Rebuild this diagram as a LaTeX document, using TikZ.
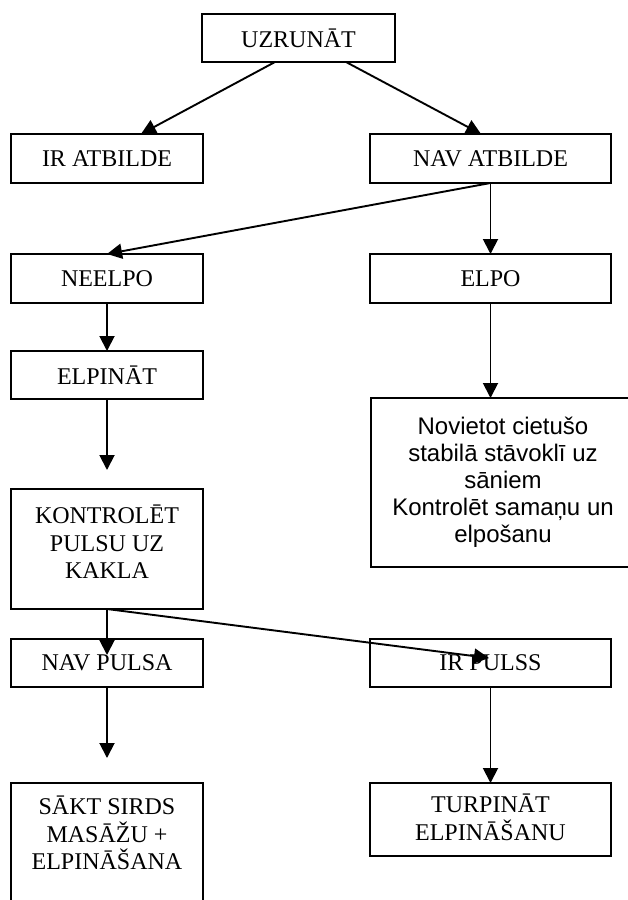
\documentclass[tikz,border=0pt]{standalone}
\usepackage{fontspec}
\setmainfont{Liberation Serif}
\newfontfamily\arialfont{Liberation Sans}
\usepackage{tikz}
\usetikzlibrary{arrows.meta}

\tikzset{
	box/.style={draw, line width=1.9pt, outer sep=0pt, inner sep=0pt, minimum width=192pt, minimum height=48pt, align=center, font=\fontsize{24}{27.5}\selectfont},
	widebox/.style={box, minimum width=241pt},
	sansbox/.style={box, font=\arialfont\fontsize{24}{27}\selectfont},
	arr/.style={line width=1.9pt, -{Triangle[length=15pt,width=15pt]}}
}

\begin{document}
\begin{tikzpicture}[x=1pt, y=-1pt]
	\clip (0,0) rectangle (628,900);
	\fill[white] (0,0) rectangle (628,900);
	% boxes
	\node[box, minimum width=193pt] (uzrunat) at (298.5,38) {UZRUNĀT};
	\node[box, minimum height=49pt] (irat) at (107,158.5) {IR ATBILDE};
	\node[widebox, minimum height=49pt] (navat) at (490.5,158.5) {NAV ATBILDE};
	\node[box, minimum height=49pt] (neelpo) at (107,278.5) {NEELPO};
	\node[widebox, minimum height=49pt] (elpo) at (490.5,278.5) {ELPO};
	\node[box] (elpinat) at (107,375) {ELPINĀT};
	\node[sansbox, minimum width=264pt, minimum height=169pt] (novietot) at (503,482.5) {Novietot cietušo\\stabilā stāvoklī uz\\sāniem\\Kontrolēt samaņu un\\elpošanu};
	\node[box, minimum height=120pt] (kontrolet) at (107,549) {KONTROLĒT\\PULSU UZ\\KAKLA\rule[-14pt]{0pt}{0pt}};
	\node[box] (navpulsa) at (107,663) {NAV PULSA};
	\node[widebox] (irpulss) at (490.5,663) {IR PULSS};
	\node[box, minimum height=120pt] (sakt) at (107,843) {SĀKT SIRDS\\MASĀŽU +\\ELPINĀŠANA\rule[-20pt]{0pt}{0pt}};
	\node[widebox, minimum height=73pt] (turpinat) at (490.5,819.5) {TURPINĀT\\ELPINĀŠANU\rule[-5pt]{0pt}{0pt}};
	% free arrow ends
	\coordinate (elpinatend) at (107,470);
	\coordinate (navpulsaend) at (107,758);
	\coordinate (kontroletnav) at (107,655);
	\coordinate (kontroletir) at (489,658);
	% arrows
	\draw[arr] ([xshift=-23.5pt]uzrunat.south) -- ([xshift=34pt]irat.north);
	\draw[arr] ([xshift=47.5pt]uzrunat.south) -- ([xshift=-9.5pt]navat.north);
	\draw[arr] (navat.south) -- (neelpo.north);
	\draw[arr] (navat.south) -- (elpo.north);
	\draw[arr] (neelpo.south) -- (elpinat.north);
	\draw[arr] (elpo.south) -- (elpo.south |- novietot.north);
	\draw[arr] (elpinat.south) -- (elpinatend);
	\draw[arr] (kontrolet.south) -- (kontroletnav);
	\draw[arr] (kontrolet.south) -- (kontroletir);
	\draw[arr] (navpulsa.south) -- (navpulsaend);
	\draw[arr] (irpulss.south) -- (turpinat.north);
\end{tikzpicture}
\end{document}
